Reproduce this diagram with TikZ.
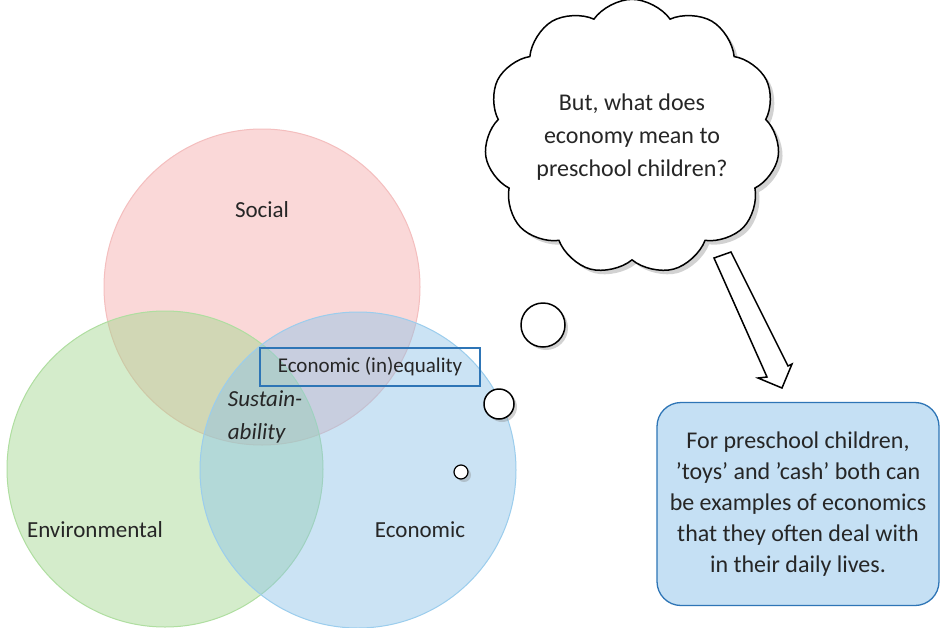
\documentclass[tikz,border=0pt]{standalone}
\usepackage{fontspec}
\setmainfont{Carlito}
\usetikzlibrary{shapes.symbols,shadows,calc}
\definecolor{socf}{RGB}{246,170,170}
\definecolor{socd}{RGB}{244,190,190}
\definecolor{envf}{RGB}{160,215,140}
\definecolor{envd}{RGB}{175,222,160}
\definecolor{ecof}{RGB}{140,195,232}
\definecolor{ecod}{RGB}{155,205,237}
\definecolor{boxblue}{RGB}{46,117,182}
\definecolor{notefill}{RGB}{197,224,244}
\tikzset{
  venn/.style={circle, minimum size=316pt, inner sep=0pt, fill opacity=0.45, line width=1pt},
  lbl/.style={font=\fontsize{23}{27}\selectfont, text=black!85},
  bubble/.style={circle, draw=black, line width=1.5pt, fill=white, inner sep=0pt,
    drop shadow={shadow xshift=3pt, shadow yshift=-3pt, opacity=0.35}},
}
\begin{document}
\begin{tikzpicture}[x=1pt,y=-1pt]
\clip (0,0) rectangle (943,627);
\fill[white] (0,0) rectangle (943,627);
% Venn circles
\node[venn, fill=socf, draw=socd] (soc) at (262,287) {};
\node[venn, fill=envf, draw=envd] (env) at (165,469) {};
\node[venn, fill=ecof, draw=ecod] (eco) at (358,470) {};
\node[lbl] (soct) at (262,210) {Social};
\node[lbl] (envt) at (95,530) {Environmental};
\node[lbl] (ecot) at (420,530) {Economic};
\node[lbl, font=\fontsize{23}{33}\selectfont\itshape, align=left] (sus) at (265,417) {Sustain-\\ability};
\node[draw=boxblue, line width=1.2pt, minimum width=220pt, minimum height=38pt,
      font=\fontsize{21}{25}\selectfont, text=black!85] (ineq) at (370,367) {Economic (in)equality};
% thought bubbles
\node[bubble, minimum size=44pt] (b1) at (543,325) {};
\node[bubble, minimum size=30pt] (b2) at (499,404) {};
\node[bubble, minimum size=14pt, line width=1.2pt] (b3) at (461,472) {};
% cloud
\node[cloud, cloud puffs=11, cloud puff arc=110, aspect=1.1, draw=black, line width=1.5pt, fill=white,
      minimum width=276pt, minimum height=262pt, inner sep=0pt,
      drop shadow={shadow xshift=4pt, shadow yshift=-4pt, opacity=0.35},
      align=center, font=\fontsize{24}{33}\selectfont, text=black!85] (cloud) at (632,137)
      {But, what does\\economy mean to\\preschool children?};
% arrow
\draw[line width=1.5pt, fill=white, line join=miter]
  (714,258) -- (731,252) -- (788,366) -- (792,364) -- (782,388) -- (758,378) -- (767,377) -- cycle;
% note
\node[draw=boxblue, line width=1.3pt, fill=notefill, rounded corners=24pt,
      minimum width=282pt, minimum height=203pt,
      align=center, font=\fontsize{24}{31}\selectfont, text=black!85] (note) at (798,504)
      {For preschool children,\\'toys' and 'cash' both can\\be examples of economics\\that they often deal with\\in their daily lives.};
\end{tikzpicture}
\end{document}
